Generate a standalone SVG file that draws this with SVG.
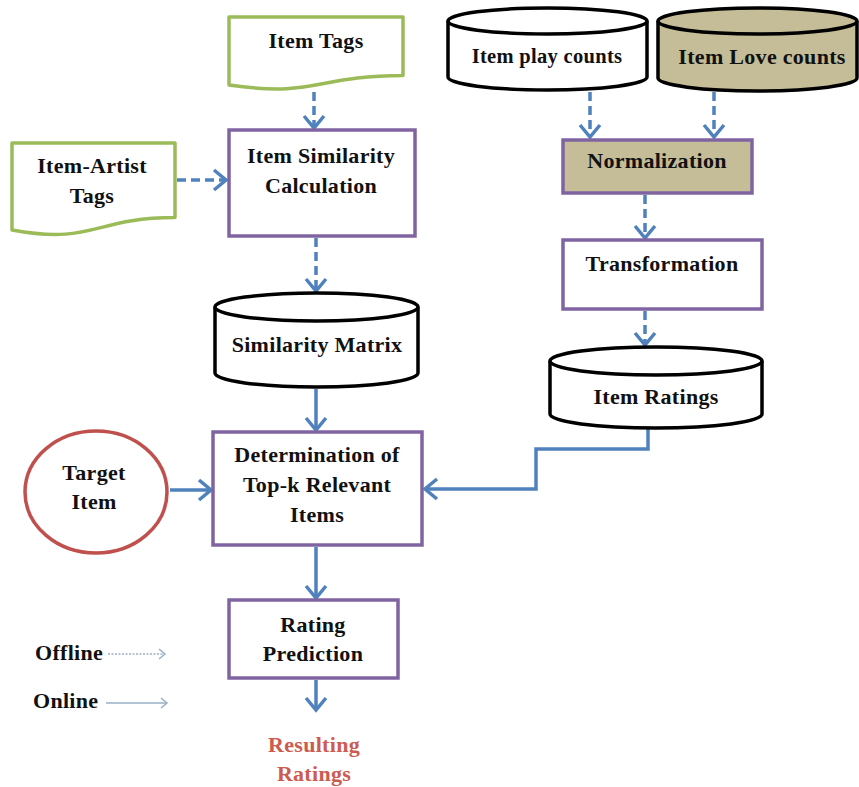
<svg xmlns="http://www.w3.org/2000/svg" width="859" height="787" viewBox="0 0 859 787">
  <style>
    .t { font-family: "Liberation Serif", "DejaVu Serif", serif; font-weight: bold; font-size: 22px; letter-spacing: 0.3px; fill: #111; text-anchor: middle; }
    .proc { fill: #fff; stroke: #8064A2; stroke-width: 3.5; }
    .tan { fill: #C4BD97; }
    .doc { fill: #fff; stroke: #9BBB59; stroke-width: 3.5; stroke-linejoin: round; }
    .db { stroke: #000; stroke-width: 3.5; }
    .edge { fill: none; stroke: #4F81BD; stroke-width: 3.5; }
    .dash { stroke-dasharray: 9 5; }
    .leg { fill: none; stroke: #9AAFC8; stroke-width: 1.5; }
  </style>
  <defs>
    <marker id="v" markerUnits="userSpaceOnUse" markerWidth="28" markerHeight="28" viewBox="0 0 28 28" refX="24" refY="14" orient="auto">
      <path d="M12,4 L24,14 L12,24" fill="none" stroke="#4F81BD" stroke-width="3.5" stroke-linejoin="miter"/>
    </marker>
    <marker id="vs" markerUnits="userSpaceOnUse" markerWidth="14" markerHeight="14" viewBox="0 0 14 14" refX="12" refY="7" orient="auto">
      <path d="M6,2 L12,7 L6,12" fill="none" stroke="#9AAFC8" stroke-width="1.5"/>
    </marker>
  </defs>

  <rect width="859" height="787" fill="#fff"/>

  <!-- connectors -->
  <g id="connectors">
    <line class="edge dash" x1="314" y1="92" x2="314" y2="128" marker-end="url(#v)"/>
    <line class="edge dash" x1="177" y1="180" x2="226" y2="180" marker-end="url(#v)"/>
    <line class="edge dash" x1="316" y1="238" x2="316" y2="291" marker-end="url(#v)"/>
    <line class="edge" x1="316" y1="389" x2="316" y2="430" marker-end="url(#v)"/>
    <line class="edge" x1="170" y1="490" x2="211" y2="490" marker-end="url(#v)"/>
    <line class="edge dash" x1="590" y1="92" x2="590" y2="137" marker-end="url(#v)"/>
    <line class="edge dash" x1="714" y1="92" x2="714" y2="137" marker-end="url(#v)"/>
    <line class="edge dash" x1="645" y1="195" x2="645" y2="238" marker-end="url(#v)"/>
    <line class="edge dash" x1="645" y1="311" x2="645" y2="345" marker-end="url(#v)"/>
    <polyline class="edge" points="648,428 648,449 536,449 536,489 425,489" marker-end="url(#v)"/>
    <line class="edge" x1="316" y1="547" x2="316" y2="598" marker-end="url(#v)"/>
    <line class="edge" x1="316" y1="680" x2="316" y2="710" marker-end="url(#v)"/>
  </g>

  <!-- documents -->
  <g id="item-tags">
    <path class="doc" d="M229,17 H403 V75.5 C316,75.5 316,97.8 229,85 Z"/>
    <text class="t" x="316" y="48">Item Tags</text>
  </g>
  <g id="item-artist-tags">
    <path class="doc" d="M12,143 H175 V217.6 C93.5,217.6 93.5,245 12,230 Z"/>
    <text class="t" x="92" y="173">Item-Artist</text>
    <text class="t" x="92" y="203">Tags</text>
  </g>

  <!-- processes -->
  <g id="item-similarity">
    <rect class="proc" x="229" y="130" width="186" height="106"/>
    <text class="t" x="321" y="163">Item Similarity</text>
    <text class="t" x="321" y="193">Calculation</text>
  </g>
  <g id="normalization">
    <rect class="proc tan" x="563" y="140" width="189" height="53"/>
    <text class="t" x="657" y="168">Normalization</text>
  </g>
  <g id="transformation">
    <rect class="proc" x="563" y="240" width="199" height="69"/>
    <text class="t" x="662" y="271">Transformation</text>
  </g>
  <g id="top-k">
    <rect class="proc" x="213" y="432" width="209" height="113"/>
    <text class="t" x="317" y="462">Determination  of</text>
    <text class="t" x="317" y="492">Top-k Relevant</text>
    <text class="t" x="317" y="522">Items</text>
  </g>
  <g id="rating-prediction">
    <rect class="proc" x="229" y="600" width="169" height="78"/>
    <text class="t" x="313" y="632">Rating</text>
    <text class="t" x="313" y="661">Prediction</text>
  </g>

  <!-- data stores -->
  <g id="play-counts">
    <path class="db" fill="#fff" d="M448,21 V77 A99.5,13 0 0 0 647,77 V21"/>
    <ellipse class="db" fill="#fff" cx="547.5" cy="21" rx="99.5" ry="13"/>
    <text class="t" x="547" y="63" style="font-size:20.5px">Item play counts</text>
  </g>
  <g id="love-counts">
    <path class="db tan" d="M658,21 V78 A99.5,13 0 0 0 857,78 V21"/>
    <ellipse class="db tan" cx="757.5" cy="21" rx="99.5" ry="13"/>
    <text class="t" x="762" y="64">Item Love counts</text>
  </g>
  <g id="similarity-matrix">
    <path class="db" fill="#fff" d="M215,307 V373 A101.5,14 0 0 0 418,373 V307"/>
    <ellipse class="db" fill="#fff" cx="316.5" cy="307" rx="101.5" ry="14"/>
    <text class="t" x="317" y="352">Similarity  Matrix</text>
  </g>
  <g id="item-ratings">
    <path class="db" fill="#fff" d="M550,361 V414 A106,14 0 0 0 762,414 V361"/>
    <ellipse class="db" fill="#fff" cx="656" cy="361" rx="106" ry="14"/>
    <text class="t" x="656" y="404">Item  Ratings</text>
  </g>

  <!-- start / end -->
  <g id="target-item">
    <ellipse cx="96" cy="492" rx="71" ry="61" fill="#fff" stroke="#C0504D" stroke-width="3.5"/>
    <text class="t" x="94" y="480">Target</text>
    <text class="t" x="94" y="509">Item</text>
  </g>
  <g id="resulting-ratings">
    <text class="t" x="314" y="752" style="fill:#CC5B50">Resulting</text>
    <text class="t" x="314" y="781" style="fill:#CC5B50">Ratings</text>
  </g>

  <!-- legend -->
  <g id="legend">
    <text class="t" x="35" y="660" style="text-anchor:start">Offline</text>
    <line class="leg" x1="108" y1="654" x2="165" y2="654" stroke-dasharray="2 1.5" marker-end="url(#vs)"/>
    <text class="t" x="33" y="708" style="text-anchor:start">Online</text>
    <line class="leg" x1="106" y1="703" x2="167" y2="703" marker-end="url(#vs)"/>
  </g>
</svg>
